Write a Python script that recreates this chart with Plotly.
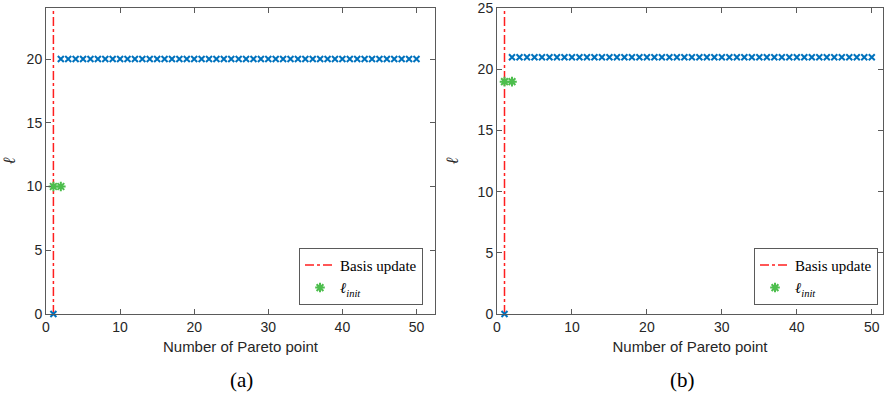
import plotly.graph_objects as go

# ---- data ----
pareto_a = list(range(1, 51))
ell_a = [0] + [20] * 49
init_x_a = [1, 2]
init_y_a = [10, 10]
basis_x_a = 1

pareto_b = list(range(1, 51))
ell_b = [0] + [21] * 49
init_x_b = [1, 2]
init_y_b = [19, 19]
basis_x_b = 1

x_ticks = [0, 10, 20, 30, 40, 50]
y_ticks_a = [0, 5, 10, 15, 20]
y_ticks_b = [0, 5, 10, 15, 20, 25]
y_max_a = 24
y_max_b = 25
x_max_a = 52.5
x_max_b = 51.5

BLUE = "#0072BD"
GREEN = "#4DBE4D"
RED = "#FF1F1F"
AX = "#5a5a5a"
TXT = "#262626"

fig = go.Figure()

def add_panel(xa, ya, px, py, ix, iy, bx, ymax, legend):
    fig.add_trace(go.Scatter(
        x=[bx, bx], y=[0, ymax], mode="lines", name="Basis update",
        line=dict(color=RED, width=1.5, dash="dashdot"),
        xaxis=xa, yaxis=ya, legend=legend, showlegend=True))
    fig.add_trace(go.Scatter(
        x=px, y=py, mode="markers", showlegend=False, cliponaxis=False,
        marker=dict(symbol="x-thin-open", size=6, line=dict(color=BLUE, width=2), color=BLUE),
        xaxis=xa, yaxis=ya))
    fig.add_trace(go.Scatter(
        x=ix, y=iy, mode="markers", name="<i>ℓ</i><sub><i>init</i></sub>",
        marker=dict(symbol="asterisk-open", size=8, line=dict(color=GREEN, width=2), color=GREEN),
        xaxis=xa, yaxis=ya, legend=legend, showlegend=True))

add_panel("x", "y", pareto_a, ell_a, init_x_a, init_y_a, basis_x_a, y_max_a, "legend")
add_panel("x2", "y2", pareto_b, ell_b, init_x_b, init_y_b, basis_x_b, y_max_b, "legend2")

axis_common = dict(
    showline=True, linecolor=AX, linewidth=1, mirror="ticks",
    ticks="inside", ticklen=5, tickcolor=AX, showgrid=False, zeroline=False,
    automargin=False,
    tickfont=dict(family="Liberation Sans, Arial", size=14, color=TXT),
)

L0, L1 = 0.0, (435 - 46) / 837
R0, R1 = (497 - 46) / 837, 1.0

xtitle = dict(text="Number of Pareto point", standoff=7,
              font=dict(family="Liberation Sans, Arial", size=15, color=TXT))
ytitle = dict(text="<i>ℓ</i>", standoff=14,
              font=dict(family="Liberation Serif, Times New Roman", size=17, color=TXT))
legend_common = dict(
    yanchor="bottom", xanchor="right", y=0.03,
    bgcolor="white", bordercolor=AX, borderwidth=1,
    font=dict(family="Liberation Serif, Times New Roman", size=15, color="black"),
    tracegroupgap=0, itemwidth=30)

fig.update_layout(
    width=885, height=396,
    margin=dict(l=46, r=2, t=8, b=82),
    plot_bgcolor="white", paper_bgcolor="white",
    xaxis=dict(domain=[L0, L1], range=[0, x_max_a], tickvals=x_ticks, anchor="y",
               title=xtitle, **axis_common),
    yaxis=dict(domain=[0, 1], range=[0, y_max_a], tickvals=y_ticks_a, anchor="x",
               title=ytitle, **axis_common),
    xaxis2=dict(domain=[R0, R1], range=[0, x_max_b], tickvals=x_ticks, anchor="y2",
                title=xtitle, **axis_common),
    yaxis2=dict(domain=[0, 1], range=[0, y_max_b + 0.02], tickvals=y_ticks_b, anchor="x2",
                title=ytitle, **axis_common),
    legend=dict(x=(423 - 46) / 837, **legend_common),
    legend2=dict(x=(878 - 46) / 837, **legend_common),
    showlegend=True,
)

for xpix, lab in [(228, "(a)"), (697, "(b)")]:
    fig.add_annotation(x=(xpix - 46) / 837, y=-0.215, xref="paper", yref="paper", text=lab,
                       showarrow=False, yanchor="middle",
                       font=dict(family="Liberation Serif, Times New Roman", size=21, color="black"))

fig.write_html("out.html", config={"displayModeBar": False},
               post_script="document.body.style.margin='0';document.body.style.overflow='hidden';")
